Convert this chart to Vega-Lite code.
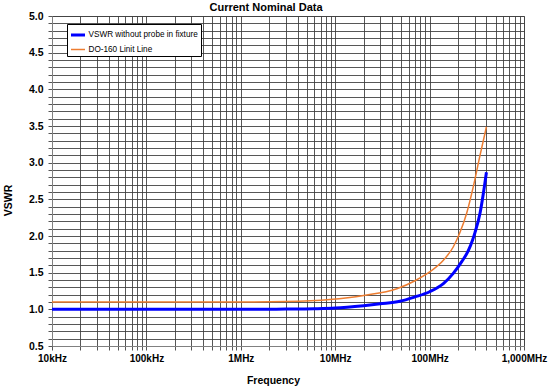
{
  "$schema": "https://vega.github.io/schema/vega-lite/v6.json",
  "width": 472,
  "height": 330,
  "autosize": {"type": "none"},
  "padding": {"left": 52, "top": 16, "right": 25, "bottom": 41},
  "background": "white",
  "title": {"text": "Current Nominal Data", "font": "Liberation Sans", "fontSize": 11, "fontWeight": "bold", "color": "black", "anchor": "middle", "dx": -22, "dy": 11, "offset": 0, "baseline": "alphabetic"},
  "config": {
    "view": {"stroke": "#808080", "strokeWidth": 1},
    "axis": {"labelFont": "Liberation Sans", "titleFont": "Liberation Sans", "labelFontWeight": "bold", "titleFontWeight": "bold", "labelColor": "black", "titleColor": "black", "gridColor": "#3a3a3a", "gridOpacity": 0.85, "gridWidth": 1, "tickColor": "#555", "domainColor": "#808080"}
  },
  "data": {"values": [
    {"freq": 10000, "vswr": 1.0, "series": "VSWR without probe in fixture"},
    {"freq": 100000, "vswr": 1.0, "series": "VSWR without probe in fixture"},
    {"freq": 1000000, "vswr": 1.0, "series": "VSWR without probe in fixture"},
    {"freq": 3000000, "vswr": 1.003, "series": "VSWR without probe in fixture"},
    {"freq": 6000000, "vswr": 1.008, "series": "VSWR without probe in fixture"},
    {"freq": 10000000, "vswr": 1.017, "series": "VSWR without probe in fixture"},
    {"freq": 20000000, "vswr": 1.05, "series": "VSWR without probe in fixture"},
    {"freq": 30000000, "vswr": 1.075, "series": "VSWR without probe in fixture"},
    {"freq": 48500000, "vswr": 1.11, "series": "VSWR without probe in fixture"},
    {"freq": 70000000, "vswr": 1.17, "series": "VSWR without probe in fixture"},
    {"freq": 100000000, "vswr": 1.24, "series": "VSWR without probe in fixture"},
    {"freq": 140000000, "vswr": 1.35, "series": "VSWR without probe in fixture"},
    {"freq": 178000000, "vswr": 1.49, "series": "VSWR without probe in fixture"},
    {"freq": 219000000, "vswr": 1.65, "series": "VSWR without probe in fixture"},
    {"freq": 257000000, "vswr": 1.80, "series": "VSWR without probe in fixture"},
    {"freq": 286000000, "vswr": 1.95, "series": "VSWR without probe in fixture"},
    {"freq": 303000000, "vswr": 2.05, "series": "VSWR without probe in fixture"},
    {"freq": 342000000, "vswr": 2.31, "series": "VSWR without probe in fixture"},
    {"freq": 371000000, "vswr": 2.58, "series": "VSWR without probe in fixture"},
    {"freq": 400000000, "vswr": 2.87, "series": "VSWR without probe in fixture"},
    {"freq": 10000, "vswr": 1.1, "series": "DO-160 Linit Line"},
    {"freq": 100000, "vswr": 1.1, "series": "DO-160 Linit Line"},
    {"freq": 1000000, "vswr": 1.1, "series": "DO-160 Linit Line"},
    {"freq": 3000000, "vswr": 1.107, "series": "DO-160 Linit Line"},
    {"freq": 8800000, "vswr": 1.135, "series": "DO-160 Linit Line"},
    {"freq": 20000000, "vswr": 1.19, "series": "DO-160 Linit Line"},
    {"freq": 45000000, "vswr": 1.28, "series": "DO-160 Linit Line"},
    {"freq": 70000000, "vswr": 1.39, "series": "DO-160 Linit Line"},
    {"freq": 100000000, "vswr": 1.51, "series": "DO-160 Linit Line"},
    {"freq": 140000000, "vswr": 1.67, "series": "DO-160 Linit Line"},
    {"freq": 178000000, "vswr": 1.85, "series": "DO-160 Linit Line"},
    {"freq": 210000000, "vswr": 2.05, "series": "DO-160 Linit Line"},
    {"freq": 247000000, "vswr": 2.31, "series": "DO-160 Linit Line"},
    {"freq": 290000000, "vswr": 2.67, "series": "DO-160 Linit Line"},
    {"freq": 342000000, "vswr": 3.10, "series": "DO-160 Linit Line"},
    {"freq": 400000000, "vswr": 3.49, "series": "DO-160 Linit Line"}
  ]},
  "mark": {"type": "line", "interpolate": "monotone", "clip": true},
  "encoding": {
    "x": {
      "field": "freq", "type": "quantitative",
      "scale": {"type": "log", "domain": [10000, 1000000000], "nice": false},
      "axis": {
        "title": "Frequency", "titleFontSize": 10.5, "titleX": 221, "titleY": 34, "titleBaseline": "middle", "titleAnchor": null,
        "values": [10000,20000,30000,40000,50000,60000,70000,80000,90000,100000,200000,300000,400000,500000,600000,700000,800000,900000,1000000,2000000,3000000,4000000,5000000,6000000,7000000,8000000,9000000,10000000,20000000,30000000,40000000,50000000,60000000,70000000,80000000,90000000,100000000,200000000,300000000,400000000,500000000,600000000,700000000,800000000,900000000,1000000000],
        "labelExpr": "datum.value == 10000 ? '10kHz' : datum.value == 100000 ? '100kHz' : datum.value == 1000000 ? '1MHz' : datum.value == 10000000 ? '10MHz' : datum.value == 100000000 ? '100MHz' : datum.value == 1000000000 ? '1,000MHz' : ''",
        "labelFontSize": 10, "labelPadding": 3, "tickSize": 4, "labelOverlap": false, "labelFlush": false
      }
    },
    "y": {
      "field": "vswr", "type": "quantitative",
      "scale": {"domain": [0.5, 5.0], "nice": false, "zero": false},
      "axis": {
        "title": "VSWR", "titleFontSize": 10.5, "titleX": -44, "titleY": 184, "titleBaseline": "middle", "titleAlign": "center", "titleAngle": -90,
        "values": [0.5,0.6,0.7,0.8,0.9,1.0,1.1,1.2,1.3,1.4,1.5,1.6,1.7,1.8,1.9,2.0,2.1,2.2,2.3,2.4,2.5,2.6,2.7,2.8,2.9,3.0,3.1,3.2,3.3,3.4,3.5,3.6,3.7,3.8,3.9,4.0,4.1,4.2,4.3,4.4,4.5,4.6,4.7,4.8,4.9,5.0],
        "labelExpr": "abs(datum.value * 2 - round(datum.value * 2)) < 0.01 ? format(datum.value, '.1f') : ''",
        "labelFontSize": 10.5, "labelPadding": 5, "tickSize": 4, "labelOverlap": false, "labelFlush": false
      }
    },
    "color": {
      "field": "series", "type": "nominal",
      "scale": {"domain": ["VSWR without probe in fixture", "DO-160 Linit Line"], "range": ["#0000FF", "#ED7D31"]},
      "legend": {"title": null, "orient": "none", "legendX": 15, "legendY": 8, "symbolType": "stroke", "symbolSize": 196, "symbolStrokeWidth": 2.5, "labelFont": "Liberation Sans", "labelFontSize": 8.2, "labelColor": "black", "labelOffset": 2, "padding": 2.5, "rowPadding": 0, "strokeColor": "black", "fillColor": "white", "symbolOffset": 0, "labelLimit": 300}
    },
    "strokeWidth": {
      "field": "series", "type": "nominal",
      "scale": {"domain": ["VSWR without probe in fixture", "DO-160 Linit Line"], "range": [3, 1.5]},
      "legend": null
    }
  }
}
